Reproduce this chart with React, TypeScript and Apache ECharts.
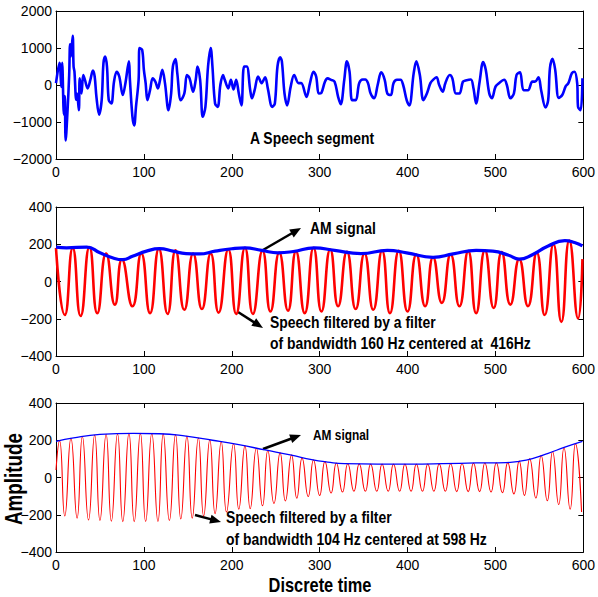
import React, { useEffect, useRef } from "react";
import * as echarts from "echarts";

// ---- Panel 1: speech segment (samples: extrema & turning points)
const speechT = [0,4,6,7,9,10,11,13,15,16,17,19,20,21,23,24,26,27,29,31,33,36,39,42,44,46,49,52,54,56,58,60,63,66,69,72,76,79,83,84,87,89,91,94,95,98,100,102,104,107,110,113,116,118,121,124,128,131,133,136,138,142,146,149,152,156,159,161,164,167,170,173,176,178,181,184,187,190,192,196,199,202,205,208,211,214,217,221,223,226,230,234,238,241,246,249,252,255,257,260,263,267,271,276,279,285,289,293,296,299,302,306,309,313,317,321,324,328,331,334,337,341,345,349,352,355,358,362,366,370,374,377,381,384,388,392,395,399,402,407,410,414,418,422,426,429,433,436,440,443,448,451,455,459,463,466,472,475,478,482,486,489,493,496,500,504,510,513,517,521,524,528,532,537,542,545,549,552,557,560,562,565,568,572,576,580,583,587,590,593,594,597,599];
const speechV = [50,600,-50,600,-800,-300,-1500,-750,270,1100,770,1330,500,360,-400,-230,-680,180,-230,270,130,-90,130,390,230,-320,-800,-400,590,770,500,-400,-500,90,360,230,-270,50,640,180,-860,-1090,-590,140,1000,950,410,50,-410,-140,180,90,-90,90,410,50,-680,-230,500,700,320,-410,-230,270,180,-180,140,500,140,-860,-590,500,1000,500,-500,-590,0,270,140,-90,140,-120,140,-230,-550,500,500,-140,-360,-140,230,50,210,-90,-590,-500,500,750,640,-230,-550,-50,270,50,50,-320,50,360,230,-230,-210,90,180,140,90,-320,-520,140,640,360,-410,-410,50,150,150,50,-230,-360,0,340,140,-230,-270,50,140,140,0,-410,-550,320,640,270,-410,-230,50,140,210,0,-180,50,270,180,-230,-230,90,120,150,-90,-500,90,620,410,-230,-360,-50,50,140,0,-360,-230,270,340,-140,-140,90,90,210,-140,-610,-410,450,710,410,-350,-270,-30,50,320,360,50,-590,-680,180];

// ---- Panel 2: filtered speech (416 Hz) and its AM envelope
const midRedT = [0,10,19,28,38,47,57,67,75,87,97,107,117,127,136,146,156,166,176,185,196,205,215,224,235,244,254,264,273,283,293,302,312,321,331,341,351,361,371,380,390,400,410,420,429,439,449,459,469,478,488,498,507,517,527,537,547,556,566,575,584,594,599];
const midRedV = [180,-180,180,-185,185,-170,150,-124,118,-133,150,-170,175,-174,168,-152,150,-148,150,-167,172,-174,181,-174,165,-161,155,-157,162,-170,181,-161,172,-133,160,-148,150,-152,165,-170,165,-161,145,-133,130,-115,145,-133,163,-170,167,-142,158,-124,120,-133,155,-180,200,-217,220,-198,120];
const midEnvT = [0,12,35,50,65,76,87,103,118,133,148,163,181,200,215,234,253,270,294,317,347,377,399,429,452,478,497,515,527,542,560,579,590,599];
const midEnvV = [185,181,185,154,126,117,135,163,176,163,150,148,163,176,181,167,154,161,181,167,150,167,154,130,148,167,163,141,120,144,191,219,209,191];

// ---- Panel 3: filtered speech (598 Hz) and its AM envelope
const botRedT = [0,4,10,17,24,30,37,44,50,57,63,70,76,83,89,96,102,109,116,122,129,136,142,149,155,162,168,175,181,188,194,202,208,215,221,228,235,241,248,255,261,268,274,280,287,293,300,306,313,319,326,332,339,345,352,358,365,371,378,384,391,397,404,410,417,423,430,436,443,449,456,462,469,475,482,488,495,501,508,514,521,527,533,539,546,552,559,565,572,578,585,591,598];
const botRedV = [40,198,-207,210,-218,220,-228,228,-231,232,-235,235,-237,237,-237,237,-236,236,-236,234,-231,230,-222,222,-218,212,-207,202,-194,192,-185,181,-170,170,-167,157,-152,145,-139,132,-126,120,-111,104,-102,94,-96,85,-83,78,-78,74,-74,73,-74,72,-74,72,-74,72,-74,72,-74,72,-74,72,-74,73,-74,74,-76,75,-76,77,-76,78,-78,79,-82,80,-88,88,-96,100,-110,118,-125,140,-145,160,-170,182,-185];
const botEnvT = [0,20,50,88,118,148,178,208,238,268,291,309,328,366,403,440,478,512,527,542,560,579,599];
const botEnvV = [194,213,231,237,235,222,200,176,148,120,96,83,74,72,72,74,78,80,87,102,130,163,194];

// ---- Axis settings
const xTicks = { min: 0, max: 600, interval: 100 };
const yRanges = [
  { min: -2000, max: 2000, interval: 1000 },
  { min: -400, max: 400, interval: 200 },
  { min: -400, max: 400, interval: 200 },
];

const zip = (t: number[], v: number[]) => t.map((x, i) => [x, v[i]]);

const TICK_FONT = "'Liberation Sans Narrow', 'Liberation Sans', Arial, sans-serif";
const BOLD_FONT = "'Liberation Sans', Arial, sans-serif";
const NARROW = 0.82;

function arrow(x1: number, y1: number, x2: number, y2: number, lw: number, hl: number, hw: number) {
  const dx = x2 - x1, dy = y2 - y1, L = Math.hypot(dx, dy);
  const ux = dx / L, uy = dy / L;
  const bx = x2 - ux * hl, by = y2 - uy * hl;
  const px = -uy, py = ux;
  return [
    { type: "line", shape: { x1, y1, x2: bx + ux, y2: by + uy }, style: { stroke: "#000", lineWidth: lw } },
    {
      type: "polygon",
      shape: { points: [[x2, y2], [bx + (px * hw) / 2, by + (py * hw) / 2], [bx - (px * hw) / 2, by - (py * hw) / 2]] },
      style: { fill: "#000" },
    },
  ];
}

function label(text: string, x: number, y: number, size: number, align = "left", rotation = 0) {
  return {
    type: "text",
    x,
    y,
    rotation,
    scaleX: NARROW,
    style: {
      text,
      font: `bold ${size}px ${BOLD_FONT}`,
      fill: "#000",
      textAlign: align,
      textVerticalAlign: "middle",
    },
  };
}

export default function App() {
  const ref = useRef<HTMLDivElement>(null);
  useEffect(() => {
    if (!ref.current) return;
    const chart = echarts.init(ref.current, null, { renderer: "svg" });
    const grids = [
      { left: 56, top: 11, width: 534, height: 148 },
      { left: 56, top: 207, width: 534, height: 149 },
      { left: 56, top: 403, width: 534, height: 149 },
    ];
    const axisLine = { show: true, onZero: false, lineStyle: { color: "#000", width: 1 } };
    const tick = { inside: true, length: 5, lineStyle: { color: "#000" } };
    const xAxis: any[] = [];
    const yAxis: any[] = [];
    grids.forEach((_, g) => {
      xAxis.push({
        type: "value", gridIndex: g, position: "bottom", ...xTicks,
        axisLine, axisTick: tick,
        axisLabel: { color: "#000", fontSize: 14, fontFamily: TICK_FONT, margin: 6 },
        splitLine: { show: false },
      });
      xAxis.push({
        type: "value", gridIndex: g, position: "top", ...xTicks,
        axisLine, axisTick: tick,
        axisLabel: { show: false }, splitLine: { show: false },
      });
      yAxis.push({
        type: "value", gridIndex: g, position: "left", ...yRanges[g],
        axisLine, axisTick: tick,
        axisLabel: {
          color: "#000", fontSize: 14, fontFamily: TICK_FONT, margin: 4,
          formatter: (v: number) => (v < 0 ? "\u2212" + Math.abs(v) : String(v)),
        },
        splitLine: { show: false },
      });
      yAxis.push({
        type: "value", gridIndex: g, position: "right", ...yRanges[g],
        axisLine, axisTick: tick,
        axisLabel: { show: false }, splitLine: { show: false },
      });
    });

    const line = (g: number, data: number[][], color: string, width: number, smooth: number) => ({
      type: "line", xAxisIndex: 2 * g, yAxisIndex: 2 * g, data,
      symbol: "none", showSymbol: false, smooth,
      lineStyle: { color, width }, itemStyle: { color }, silent: true,
    });

    chart.setOption({
      animation: false,
      backgroundColor: "#fff",
      grid: grids,
      xAxis,
      yAxis,
      series: [
        line(0, zip(speechT, speechV), "#0000ff", 2.6, 0.35),
        line(1, zip(midRedT, midRedV), "#ff0000", 2.6, 0.55),
        line(1, zip(midEnvT, midEnvV), "#0000ff", 3.2, 0.5),
        line(2, zip(botRedT, botRedV), "#ff0000", 1.1, 0.55),
        line(2, zip(botEnvT, botEnvV), "#0000ff", 1.3, 0.5),
      ],
      graphic: [
        label("A Speech segment", 312, 138, 17, "center"),
        label("AM signal", 310, 228, 17),
        ...arrow(263, 250, 301, 228, 2.5, 11, 9),
        label("Speech filtered by a filter", 270, 322, 17),
        label("of bandwidth 160 Hz centered at  416Hz", 270, 343, 17),
        ...arrow(238, 312, 263, 328, 2.5, 11, 9),
        label("AM signal", 313, 435, 14.5),
        ...arrow(263, 449, 301, 435, 2.5, 11, 9),
        label("Speech filtered by a filter", 226, 517, 17),
        label("of bandwidth 104 Hz centered at 598 Hz", 226, 539, 17),
        ...arrow(195, 515, 221, 522, 2.5, 11, 9),
        label("Discrete time", 320, 585, 20, "center"),
        label("Amplitude", 14, 479, 23, "center", Math.PI / 2),
      ],
    });
    return () => chart.dispose();
  }, []);
  return (
    <div
      ref={ref}
      style={{ position: "fixed", left: 0, top: 0, width: 598, height: 597, background: "#fff" }}
    />
  );
}
